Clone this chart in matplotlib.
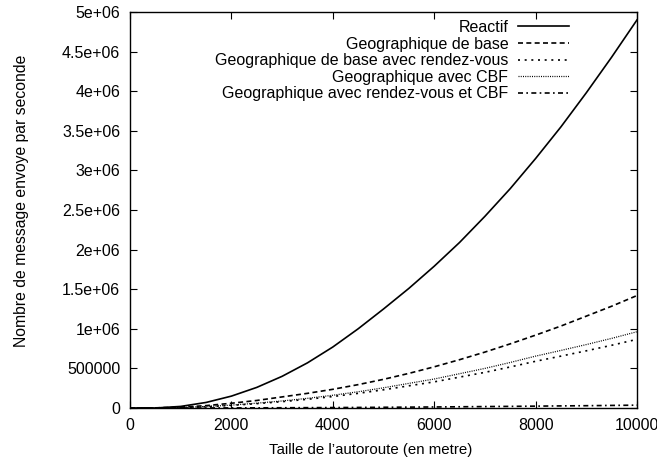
import numpy as np
import matplotlib.pyplot as plt

plt.rcParams['font.family'] = ['Liberation Sans', 'DejaVu Sans']
plt.rcParams['font.size'] = 11.5

# Taille de l'autoroute (m)
taille = [0, 500, 1000, 1500, 2000, 2500, 3000, 3500, 4000, 4500, 5000,
          5500, 6000, 6500, 7000, 7500, 8000, 8500, 9000, 9500, 10000]

reactif = [0, 0, 20000, 70000, 150000, 260000, 400000, 570000, 770000,
           1000000, 1250000, 1510000, 1790000, 2090000, 2420000, 2770000,
           3150000, 3550000, 3980000, 4430000, 4900000]
geo_base = [0, 2000, 10000, 30000, 60000, 95000, 140000, 185000, 236000,
            295000, 362000, 437000, 520000, 610000, 706000, 810000, 920000,
            1035000, 1160000, 1285000, 1420000]
geo_rdv = [0, 1000, 6000, 16000, 33000, 55000, 80000, 110000, 145000,
           185000, 230000, 280000, 330000, 390000, 450000, 518000, 590000,
           655000, 722000, 792000, 867000]
geo_cbf = [0, 1100, 6700, 17800, 36500, 61000, 89000, 122000, 161000,
           205000, 255000, 311000, 366000, 433000, 500000, 575000, 655000,
           727000, 801000, 879000, 963000]
geo_rdv_cbf = [0, 0, 200, 500, 1200, 2000, 3000, 4200, 5500, 7000, 9000,
               11000, 13000, 15500, 18000, 20500, 23500, 26500, 29000,
               32500, 36000]

labels = ["Reactif", "Geographique de base",
          "Geographique de base avec rendez-vous",
          "Geographique avec CBF",
          "Geographique avec rendez-vous et CBF"]


def plot_messages():
    """Messages envoyes vs taille de l'autoroute."""
    fig = plt.figure(figsize=(6.57, 4.63), dpi=100)
    ax = fig.add_axes([130 / 657, 55 / 463, 507 / 657, 396 / 463])

    ax.plot(taille, reactif, color='black', lw=1.2, label=labels[0])
    ax.plot(taille, geo_base, color='black', lw=1.2,
            linestyle=(0, (3, 2)), label=labels[1])
    ax.plot(taille, geo_rdv, color='black', lw=1.2,
            linestyle=(0, (1.2, 2.8)), label=labels[2])
    ax.plot(taille, geo_cbf, color='black', lw=0.9,
            linestyle=(0, (0.8, 1.0)), label=labels[3])
    ax.plot(taille, geo_rdv_cbf, color='black', lw=1.2,
            linestyle=(0, (3, 2, 1, 2)), label=labels[4])

    ax.set_xlim(0, 10000)
    ax.set_ylim(0, 5e6)
    ax.set_xticks(np.arange(0, 10001, 2000))
    yt = np.arange(0, 5e6 + 1, 5e5)
    ax.set_yticks(yt)
    ylab = []
    for v in yt:
        if v == 0:
            ylab.append("0")
        elif v == 5e5:
            ylab.append("500000")
        else:
            ylab.append(("%g" % (v / 1e6)) + "e+06")
    ax.set_yticklabels(ylab)
    ax.tick_params(axis='y', pad=7)
    ax.tick_params(axis='x', pad=7)
    ax.tick_params(direction='in', length=5, width=0.8, top=True, right=True,
                   labelsize=11.5)
    for s in ax.spines.values():
        s.set_linewidth(1.0)

    ax.set_xlabel("Taille de l\u2019autoroute (en metre)", fontsize=10.8)
    ax.set_ylabel("Nombre de message envoye par seconde", fontsize=11.3)
    ax.xaxis.set_label_coords(0.475, -0.088)
    ax.yaxis.set_label_coords(-0.199, 0.523)

    ax.legend(loc='upper right', bbox_to_anchor=(0.888, 1.008),
              markerfirst=False, frameon=False, handlelength=3.2,
              handletextpad=0.6, labelspacing=0.1, fontsize=11.5,
              borderpad=0.2)

    fig.savefig("out.png", dpi=100)


if __name__ == "__main__":
    plot_messages()
